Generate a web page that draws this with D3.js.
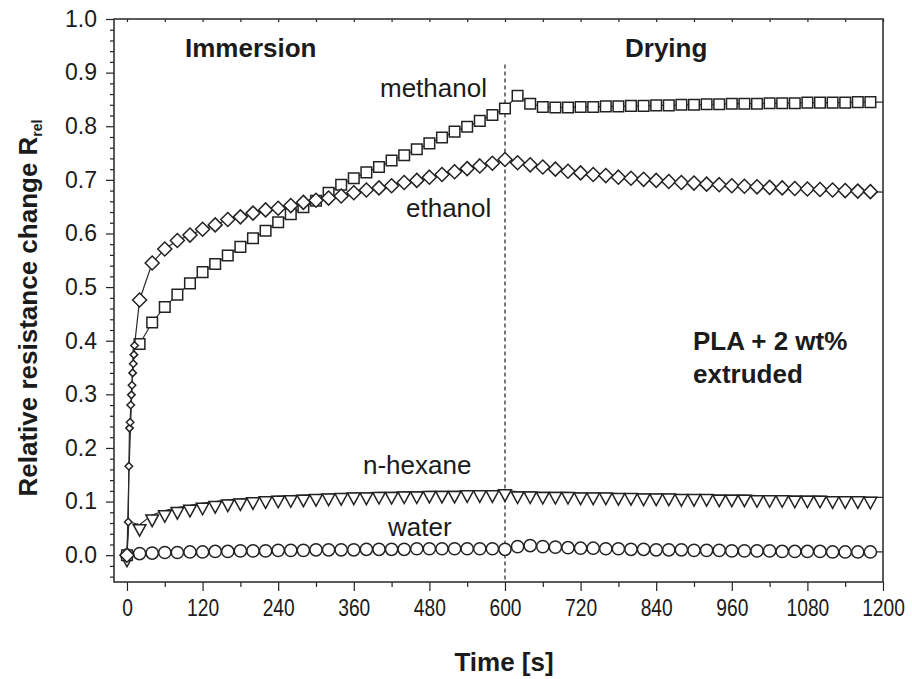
<!DOCTYPE html>
<html>
<head>
<meta charset="utf-8">
<script src="https://cdn.jsdelivr.net/npm/d3@7/dist/d3.min.js"></script>
<style>
  html, body { margin: 0; padding: 0; background: #fff; }
  svg text { font-family: "Liberation Sans", Arial, Helvetica, sans-serif; fill: #1b1b1b; }
</style>
</head>
<body>
<svg id="chart" width="912" height="679"></svg>
<script>
// Sampling grid of the logged readings (s); markers every 20 s, the 1200 s reading closes the line
const gridT = [0,20,40,60,80,100,120,140,160,180,200,220,240,260,280,300,320,340,360,380,
  400,420,440,460,480,500,520,540,560,580,600,620,640,660,680,700,720,740,760,780,
  800,820,840,860,880,900,920,940,960,980,1000,1020,1040,1060,1080,1100,1120,1140,1160,1180,1200];

// Relative resistance change R_rel per solvent on the grid above
const methanolR = [0,0.394,0.434,0.463,0.486,0.507,0.528,0.543,0.559,0.575,0.591,0.605,0.621,0.636,0.649,0.661,0.676,0.691,0.703,0.714,
  0.724,0.736,0.746,0.757,0.768,0.779,0.790,0.799,0.810,0.821,0.833,0.857,0.842,0.836,0.835,0.835,0.836,0.836,0.837,0.837,
  0.838,0.838,0.839,0.839,0.840,0.840,0.841,0.841,0.842,0.842,0.842,0.843,0.843,0.843,0.844,0.844,0.844,0.844,0.845,0.845,0.845];
const ethanolR = [0,0.476,0.545,0.571,0.587,0.597,0.608,0.616,0.626,0.631,0.638,0.644,0.647,0.652,0.658,0.662,0.666,0.670,0.676,0.681,
  0.685,0.689,0.695,0.699,0.705,0.710,0.715,0.721,0.726,0.731,0.738,0.732,0.728,0.724,0.720,0.716,0.713,0.710,0.708,0.705,
  0.703,0.701,0.699,0.697,0.695,0.694,0.692,0.691,0.689,0.688,0.687,0.686,0.685,0.684,0.683,0.682,0.681,0.680,0.679,0.678,0.677];
const hexaneR = [0,0.057,0.075,0.083,0.089,0.093,0.097,0.100,0.103,0.105,0.107,0.109,0.110,0.111,0.112,0.113,0.114,0.115,0.116,0.116,
  0.117,0.117,0.118,0.118,0.119,0.119,0.119,0.120,0.120,0.120,0.122,0.118,0.118,0.117,0.117,0.117,0.116,0.116,0.116,0.115,
  0.115,0.114,0.114,0.114,0.113,0.113,0.113,0.112,0.112,0.112,0.111,0.111,0.111,0.110,0.110,0.110,0.109,0.109,0.109,0.108,0.108];
const waterR = [0,0.003,0.004,0.005,0.005,0.006,0.006,0.007,0.007,0.008,0.008,0.008,0.009,0.009,0.009,0.010,0.010,0.010,0.010,0.011,
  0.011,0.011,0.011,0.012,0.012,0.012,0.012,0.012,0.012,0.012,0.011,0.016,0.018,0.016,0.015,0.014,0.013,0.013,0.012,0.012,
  0.011,0.011,0.010,0.010,0.010,0.009,0.009,0.009,0.008,0.008,0.008,0.008,0.007,0.007,0.007,0.007,0.006,0.006,0.006,0.006,0.006];

// Fast first-seconds readings right after immersion
const ethanolEarlyT = [2,3,4,5,6,7,8,9,10,11,12];
const ethanolEarlyR = [0.062,0.166,0.237,0.248,0.280,0.299,0.317,0.340,0.357,0.374,0.391];
const methanolEarlyT = [3,10];
const methanolEarlyR = [0.15,0.385];
const hexaneEarlyT = [3];
const hexaneEarlyR = [0.062];

// Axis ticks
const xTicks = [0,120,240,360,480,600,720,840,960,1080,1200];
const yTicks = [0.0,0.1,0.2,0.3,0.4,0.5,0.6,0.7,0.8,0.9,1.0];
const switchTime = 600;

const frame = { left: 114, right: 883, top: 19, bottom: 582 };
const ink = "#222";

const svg = d3.select("#chart");
const x = d3.scaleLinear().domain([-20.6, 1200]).range([frame.left, frame.right]);
const y = d3.scaleLinear().domain([-0.05, 1.0]).range([frame.bottom, frame.top]);

// ---- axes ----
function styleAxis(g) {
  g.select(".domain").remove();
  g.selectAll(".tick line").attr("stroke", ink).attr("stroke-width", 1.2);
}
const yMinor = d3.range(-0.04, 1.001, 0.02).filter(v => Math.abs(Math.round(v * 10) - v * 10) > 1e-6);
svg.append("g").attr("transform", `translate(${frame.left},0)`)
  .call(d3.axisLeft(y).tickValues(yMinor).tickSize(4).tickFormat(""))
  .call(styleAxis);
svg.append("g").attr("transform", `translate(${frame.left},0)`)
  .call(d3.axisLeft(y).tickValues(yTicks).tickSize(8).tickPadding(9).tickFormat(d3.format(".1f")))
  .call(styleAxis)
  .call(g => g.selectAll("text").attr("font-size", 23).attr("fill", ink));

const xMinor = d3.range(60, 1200, 120);
svg.append("g").attr("transform", `translate(0,${frame.bottom})`)
  .call(d3.axisBottom(x).tickValues(xMinor).tickSize(5).tickFormat(""))
  .call(styleAxis);
const xAxisG = svg.append("g").attr("transform", `translate(0,${frame.bottom})`)
  .call(d3.axisBottom(x).tickValues(xTicks).tickSize(9).tickPadding(8).tickFormat(d3.format("d")))
  .call(styleAxis);
// narrow digits along the time axis
xAxisG.selectAll(".tick text")
  .attr("font-size", 24).attr("fill", ink)
  .attr("transform", "scale(0.8,1)")
  .attr("x", function () { return 0; });
// short inward ticks along the top edge
svg.append("g").attr("transform", `translate(0,${frame.top})`)
  .call(d3.axisBottom(x).tickValues(d3.range(0, 1201, 60)).tickSize(3).tickFormat(""))
  .call(styleAxis);

// plot frame
svg.append("rect")
  .attr("x", frame.left).attr("y", frame.top)
  .attr("width", frame.right - frame.left).attr("height", frame.bottom - frame.top)
  .attr("fill", "none").attr("stroke", "#333").attr("stroke-width", 1.6);

// immersion / drying boundary
svg.append("line")
  .attr("x1", x(switchTime)).attr("x2", x(switchTime))
  .attr("y1", y(0.915)).attr("y2", y(-0.05))
  .attr("stroke", "#333").attr("stroke-width", 1.3).attr("stroke-dasharray", "4,3");

// ---- series ----
function merge(mainT, mainR, earlyT, earlyR) {
  const pts = mainT.map((t, i) => ({ t, r: mainR[i], early: false }));
  earlyT.forEach((t, i) => pts.push({ t, r: earlyR[i], early: true }));
  return pts.sort((a, b) => a.t - b.t);
}
const line = d3.line().x(d => x(d.t)).y(d => y(d.r));

const symbols = {
  square: (s) => `M${-s/2},${-s/2}H${s/2}V${s/2}H${-s/2}Z`,
  diamond: (s) => `M0,${-s/2}L${s/2},0L0,${s/2}L${-s/2},0Z`,
  circle: (s) => `M${s/2},0A${s/2},${s/2} 0 1,1 ${-s/2},0A${s/2},${s/2} 0 1,1 ${s/2},0Z`,
  // downward triangle hanging from the data point
  triDown: (s) => `M${-s/2},0H${s/2}L0,${s*0.92}Z`
};

const series = [
  { name: "water",    pts: merge(gridT, waterR, [], []),                       sym: "circle",  size: 12.2 },
  { name: "n-hexane", pts: merge(gridT, hexaneR, hexaneEarlyT, hexaneEarlyR),  sym: "triDown", size: 12.6 },
  { name: "methanol", pts: merge(gridT, methanolR, methanolEarlyT, methanolEarlyR), sym: "square", size: 10.6 },
  { name: "ethanol",  pts: merge(gridT, ethanolR, ethanolEarlyT, ethanolEarlyR), sym: "diamond", size: 14, earlySize: 7.5 }
];

series.forEach(s => {
  const g = svg.append("g").attr("class", "series " + s.name);
  g.append("path").datum(s.pts).attr("d", line)
    .attr("fill", "none").attr("stroke", "#2a2a2a").attr("stroke-width", 1.2);
  const marked = s.pts.filter(d => d.t < 1200 && (d.early ? !!s.earlySize : true));
  g.selectAll("path.mk").data(marked).join("path")
    .attr("class", "mk")
    .attr("transform", d => `translate(${x(d.t)},${y(d.r)})`)
    .attr("d", d => symbols[s.sym](d.early ? s.earlySize : s.size))
    .attr("fill", "#fff").attr("stroke", ink).attr("stroke-width", 1.5);
});

// ---- text ----
svg.append("text").attr("x", 185).attr("y", 57).attr("font-size", 26).attr("font-weight", "bold").text("Immersion");
svg.append("text").attr("x", 625).attr("y", 57).attr("font-size", 26).attr("font-weight", "bold").text("Drying");

svg.append("text").attr("x", 380).attr("y", 97).attr("font-size", 26).text("methanol");
svg.append("text").attr("x", 406).attr("y", 217).attr("font-size", 26).text("ethanol");
svg.append("text").attr("x", 363).attr("y", 474).attr("font-size", 26).text("n-hexane");
svg.append("text").attr("x", 388).attr("y", 536).attr("font-size", 26).text("water");

svg.append("text").attr("x", 693).attr("y", 350).attr("font-size", 26).attr("font-weight", "bold").text("PLA + 2 wt%");
svg.append("text").attr("x", 693).attr("y", 383).attr("font-size", 26).attr("font-weight", "bold").text("extruded");

svg.append("text").attr("x", 504).attr("y", 671)
  .attr("text-anchor", "middle").attr("font-size", 26).attr("font-weight", "bold").text("Time [s]");

const yTitle = svg.append("text")
  .attr("transform", "translate(37,308) rotate(-90)")
  .attr("text-anchor", "middle").attr("font-size", 26).attr("font-weight", "bold");
yTitle.append("tspan").text("Relative resistance change R");
yTitle.append("tspan").attr("font-size", 14).attr("dy", 5).text("rel");
</script>
</body>
</html>
